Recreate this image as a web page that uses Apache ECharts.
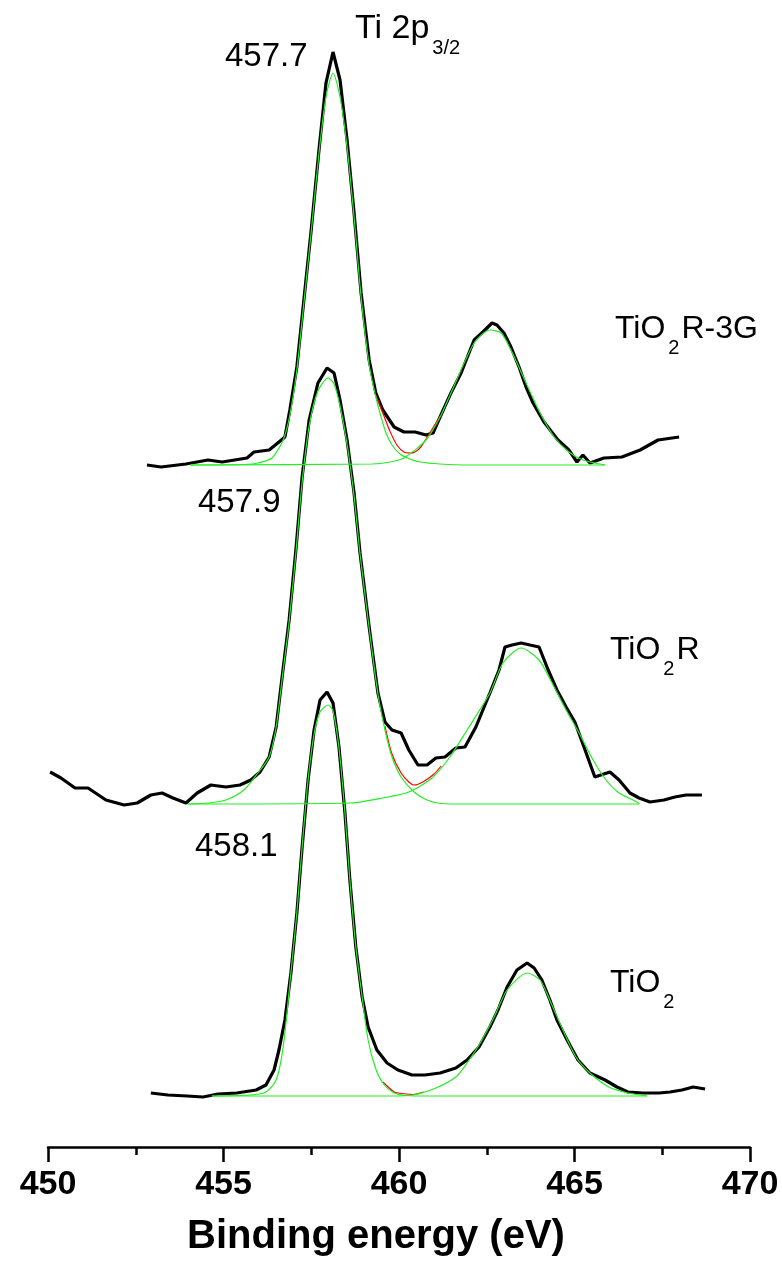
<!DOCTYPE html>
<html>
<head>
<meta charset="utf-8">
<script src="https://cdn.jsdelivr.net/npm/echarts@6/dist/echarts.min.js"></script>
<style>
  html, body { margin: 0; padding: 0; background: #fff; }
  #chart { width: 782px; height: 1268px; }
</style>
</head>
<body>
<div id="chart"></div>
<script>
// binding energy (eV), intensity above each spectrum's own baseline (a.u.)
var tio2r3gExp = [[452.82,0],[453.22,-2],[453.93,1],[454.56,5],[454.96,3],[455.67,7],[455.87,13],[456.30,15],[456.58,23],[456.75,28],[456.89,55],[457.09,98],[457.29,165],[457.49,232],[457.72,315],[457.92,382],[458.12,413],[458.32,385],[458.52,325],[458.72,252],[458.92,172],[459.15,105],[459.34,72],[459.54,55],[459.86,38],[460.14,33],[460.46,33],[460.77,30],[460.97,32],[461.17,48],[461.48,72],[461.77,92],[462.14,125],[462.39,133],[462.65,142],[462.79,140],[462.99,132],[463.19,118],[463.42,98],[463.62,78],[463.82,62],[464.13,43],[464.53,25],[464.84,15],[465.07,3],[465.24,10],[465.44,2],[465.84,7],[466.35,8],[466.87,15],[467.38,25],[467.98,28]];
var tio2r3gPk1 = [[454.05,0],[455.61,0.5],[455.98,2],[456.38,7],[456.70,25],[456.89,50],[457.09,95],[457.29,162],[457.49,230],[457.72,312],[457.92,368],[458.12,392],[458.32,368],[458.52,318],[458.72,248],[458.92,168],[459.15,100],[459.34,68],[459.49,48],[459.63,32],[459.80,20],[460.03,11],[460.31,6],[460.60,3],[461.17,1],[462.02,0],[465.87,0]];
var tio2r3gPk2 = [[454.05,0],[459.23,1],[459.74,3],[460.14,7],[460.77,25],[461.17,48],[461.48,72],[462.14,122],[462.59,135],[462.91,132],[463.19,115],[463.62,82],[464.02,52],[464.42,28],[464.84,13],[465.24,5],[465.87,0]];
var tio2r3gSum = [[459.34,70],[459.54,52],[459.74,34],[459.94,20],[460.14,13],[460.34,12],[460.57,16],[460.77,26],[461.17,49]];

var tio2rExp = [[450.06,32],[450.37,26],[450.77,16],[451.14,16],[451.65,4],[452.17,-1],[452.54,1],[452.93,9],[453.25,11],[453.56,6],[453.93,1],[454.25,11],[454.64,19],[455.07,17],[455.47,19],[455.78,24],[456.04,32],[456.30,47],[456.50,77],[456.67,127],[456.87,184],[457.07,257],[457.24,327],[457.44,384],[457.69,421],[457.95,436],[458.15,431],[458.32,404],[458.52,364],[458.72,311],[458.89,251],[459.15,177],[459.40,111],[459.60,82],[459.80,74],[460.06,71],[460.28,54],[460.54,39],[460.80,39],[461.05,46],[461.31,47],[461.62,56],[461.88,57],[462.19,77],[462.59,111],[462.85,134],[463.02,157],[463.22,159],[463.48,161],[463.73,159],[463.99,157],[464.25,134],[464.50,114],[464.76,97],[465.01,82],[465.27,57],[465.58,27],[465.75,29],[466.01,32],[466.27,24],[466.58,11],[466.84,6],[467.15,2],[467.55,4],[467.86,7],[468.18,9],[468.63,9]];
var tio2rPk1 = [[453.99,0],[454.59,1],[455.07,4],[455.58,14],[455.98,31],[456.30,47],[456.50,77],[456.67,125],[456.87,182],[457.07,254],[457.24,322],[457.44,378],[457.69,413],[457.98,426],[458.15,420],[458.32,398],[458.52,360],[458.72,308],[458.89,250],[459.15,176],[459.40,110],[459.60,74],[459.80,47],[460.06,27],[460.43,12],[460.80,4],[461.20,0.5],[462.02,0],[466.84,0]];
var tio2rPk2 = [[453.99,0],[458.63,1],[459.54,6],[460.28,12],[460.94,26],[461.45,47],[461.94,74],[462.59,111],[462.96,141],[463.48,156],[463.99,144],[464.36,121],[464.76,94],[465.13,71],[465.53,44],[465.90,24],[466.27,11],[466.78,2],[466.84,0]];
var tio2rSum = [[459.60,78],[459.80,50],[460.06,31],[460.28,22],[460.43,19],[460.68,22],[461.00,30],[461.20,38]];

var tio2Exp = [[452.93,3],[453.42,1],[453.96,0],[454.42,-1],[454.84,2],[455.38,3],[455.93,6],[456.21,11],[456.44,26],[456.58,46],[456.75,76],[456.92,123],[457.09,183],[457.24,249],[457.41,316],[457.58,366],[457.75,396],[457.95,404],[458.12,393],[458.29,349],[458.46,283],[458.60,216],[458.77,149],[458.95,99],[459.12,69],[459.37,46],[459.66,33],[459.97,26],[460.37,21],[460.74,21],[461.17,23],[461.62,28],[461.94,36],[462.28,49],[462.59,69],[462.82,86],[463.08,109],[463.36,126],[463.65,133],[463.85,128],[464.07,116],[464.30,96],[464.50,76],[464.79,56],[465.10,36],[465.44,23],[465.87,16],[466.21,9],[466.52,4],[466.95,3],[467.41,3],[467.72,4],[468.06,6],[468.38,9],[468.72,7]];
var tio2Pk1 = [[454.67,0],[455.75,1],[456.21,4],[456.50,16],[456.70,49],[456.92,123],[457.09,183],[457.24,249],[457.41,316],[457.58,362],[457.75,384],[457.98,391],[458.12,385],[458.29,348],[458.46,283],[458.60,216],[458.77,149],[458.95,99],[459.12,56],[459.32,29],[459.54,13],[459.86,3],[460.20,0.5],[460.88,0],[467.07,0]];
var tio2Pk2 = [[454.67,0],[459.74,0],[460.40,1],[461.05,8],[461.62,19],[461.94,33],[462.28,51],[462.71,79],[463.08,106],[463.65,123],[464.02,116],[464.33,93],[464.67,66],[465.04,39],[465.44,23],[465.98,9],[466.52,3],[467.07,0]];
var tio2Sum = [[459.54,14],[459.86,4],[459.97,3],[460.20,2],[460.40,1.5],[460.70,4]];

// vertical stacking offsets of the three spectra
var offsets = { tio2: 51, tio2r: 343, tio2r3g: 682 };

var xTicks = { min: 450, max: 470, step: 5 };

var FONT = '"Liberation Sans", Arial, sans-serif';

var ctx = document.createElement('canvas').getContext('2d');
function textWidth(t, size) {
    ctx.font = size + 'px ' + FONT;
    return ctx.measureText(t).width;
}

function lift(arr, off) {
    return arr.map(function (p) { return [p[0], p[1] + off]; });
}

function expLine(name, data, off) {
    return {
        name: name, type: 'line', data: lift(data, off), showSymbol: false,
        lineStyle: { color: '#000', width: 3.2 }, z: 2, silent: true
    };
}
function fitLine(name, data, off) {
    return {
        name: name, type: 'line', data: lift(data, off), showSymbol: false, smooth: 0.25,
        lineStyle: { color: '#22ee22', width: 1.2 }, z: 4, silent: true
    };
}
function sumLine(name, data, off) {
    return {
        name: name, type: 'line', data: lift(data, off), showSymbol: false, smooth: 0.3,
        lineStyle: { color: '#ff0000', width: 1.2 }, z: 3, silent: true
    };
}

// label made of normal and subscript pieces laid out left to right
function label(x, y, parts) {
    var out = [];
    parts.forEach(function (p) {
        var sub = p.length > 1;
        var size = sub ? 20 : p.size || 32;
        out.push({
            type: 'text', x: x, y: sub ? y + 19 : y, silent: true,
            style: { text: p[0], fontSize: size, fontFamily: FONT, fill: '#000', verticalAlign: 'middle', align: 'left' }
        });
        x += textWidth(p[0], size) + (sub ? 2 : 3);
    });
    return out;
}
function big(t, size) { var a = [t]; a.size = size; return a; }

var chart = echarts.init(document.getElementById('chart'));

chart.setOption({
    animation: false,
    backgroundColor: '#fff',
    grid: { left: 48, right: 32, top: 47, bottom: 121, outerBoundsMode: 'none' },
    xAxis: {
        type: 'value', min: xTicks.min, max: xTicks.max, interval: xTicks.step,
        name: 'Binding energy (eV)', nameLocation: 'middle', nameGap: 70,
        nameTextStyle: { fontSize: 40, fontWeight: 'bold', color: '#000', fontFamily: FONT, padding: [0, 46, 0, 0] },
        axisLine: { lineStyle: { color: '#000', width: 2.5 } },
        axisTick: { length: 15, lineStyle: { color: '#000', width: 2.5 } },
        minorTick: { show: true, splitNumber: 2, length: 8, lineStyle: { color: '#000', width: 2.5 } },
        splitLine: { show: false },
        axisLabel: { fontSize: 34, fontWeight: 'bold', color: '#000', margin: 21, fontFamily: FONT }
    },
    yAxis: { type: 'value', min: 0, max: 1100, show: false },
    series: [
        expLine('TiO2R-3G', tio2r3gExp, offsets.tio2r3g),
        sumLine('TiO2R-3G envelope', tio2r3gSum, offsets.tio2r3g),
        fitLine('TiO2R-3G peak 1', tio2r3gPk1, offsets.tio2r3g),
        fitLine('TiO2R-3G peak 2', tio2r3gPk2, offsets.tio2r3g),
        expLine('TiO2R', tio2rExp, offsets.tio2r),
        sumLine('TiO2R envelope', tio2rSum, offsets.tio2r),
        fitLine('TiO2R peak 1', tio2rPk1, offsets.tio2r),
        fitLine('TiO2R peak 2', tio2rPk2, offsets.tio2r),
        expLine('TiO2', tio2Exp, offsets.tio2),
        sumLine('TiO2 envelope', tio2Sum, offsets.tio2),
        fitLine('TiO2 peak 1', tio2Pk1, offsets.tio2),
        fitLine('TiO2 peak 2', tio2Pk2, offsets.tio2)
    ],
    graphic: [].concat(
        label(355, 29, [big('Ti 2p', 34), ['3/2', 's']]),
        label(225, 57, [big('457.7', 33)]),
        label(198, 503, [big('457.9', 33)]),
        label(195, 847, [big('458.1', 33)]),
        label(615, 329, [['TiO'], ['2', 's'], ['R-3G']]),
        label(610, 650, [['TiO'], ['2', 's'], ['R']]),
        label(610, 983, [['TiO'], ['2', 's']])
    )
});
</script>
</body>
</html>
